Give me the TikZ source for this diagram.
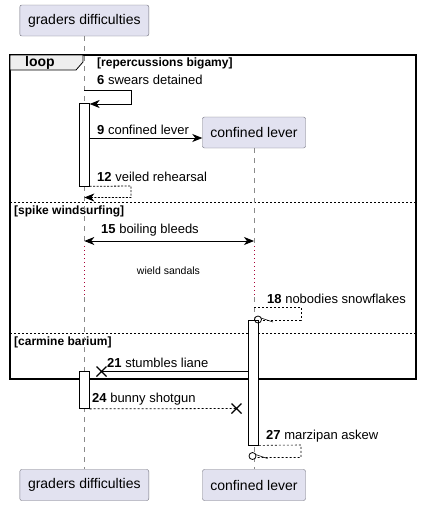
\documentclass[tikz,border=0pt]{standalone}
\usepackage{fontspec}
\setmainfont{Liberation Sans}
\usetikzlibrary{arrows.meta,positioning}
\definecolor{partfill}{HTML}{E2E2F0}
\definecolor{partline}{HTML}{6E6E7A}
\definecolor{lifegray}{HTML}{8A8A8A}
\definecolor{delayred}{HTML}{A80036}
\definecolor{tabfill}{HTML}{EEEEEE}

\begin{document}
\begin{tikzpicture}[x=1pt, y=-1pt,
    part/.style={draw=partline, fill=partfill, rounded corners=2pt, minimum width=#1, minimum height=31pt, inner sep=0pt, font=\fontsize{14}{16}\selectfont},
    life/.style={draw=lifegray, dash pattern=on 5pt off 5pt, line width=0.6pt},
    delay/.style={draw=delayred, dash pattern=on 1pt off 3pt, line width=0.8pt},
    actbar/.style={draw, fill=white, minimum width=10pt, inner sep=0pt, line width=0.7pt},
    msg/.style={-{Stealth[length=10pt, width=8pt, inset=3pt]}, line width=0.8pt},
    reply/.style={msg, dash pattern=on 2pt off 1.5pt},
    lbl/.style={font=\fontsize{13}{15}\selectfont, anchor=west, inner sep=0pt},
    guard/.style={font=\fontsize{12}{14}\selectfont\bfseries, anchor=west, inner sep=0pt},
    sep/.style={dash pattern=on 2pt off 2pt, line width=0.6pt},
    lost/.style={line width=1.3pt}
]
    \useasboundingbox (0,0) rectangle (422,506);

    % loop frame
    \draw[line width=1.5pt] (10,55) rectangle (416,379);
    \draw[fill=tabfill, line width=0.8pt] (10,55) -- (83,55) -- (83,62) -- (76,70) -- (10,70) -- cycle;
    \node[font=\fontsize{14}{16}\selectfont\bfseries, inner sep=0pt] (loopTag) at (40,62.5) {loop};
    \node[guard] (g1) at (97,63) {[repercussions bigamy]};
    \draw[sep] (10,202) -- (416,202);
    \node[guard] (g2) at (14,211.5) {[spike windsurfing]};
    \draw[sep] (10,333.5) -- (416,333.5);
    \node[guard] (g3) at (14,342.5) {[carmine barium]};

    % participants
    \node[part=129pt] (gdTop) at (84.3,20.5) {graders difficulties};
    \node[part=103pt] (clTop) at (254,132.5) {confined lever};
    \node[part=129pt] (gdBot) at (84.3,485) {graders difficulties};
    \node[part=103pt] (clBot) at (254,485) {confined lever};

    % lifelines
    \coordinate (gdD1) at (84.3,246);
    \coordinate (gdD2) at (84.3,297);
    \coordinate (clD1) at (254,246);
    \coordinate (clD2) at (254,297);
    \draw[life] (gdTop) -- (gdD1);
    \draw[delay] (gdD1) -- (gdD2);
    \draw[life] (gdD2) -- (gdBot);
    \draw[life] (clTop) -- (clD1);
    \draw[delay] (clD1) -- (clD2);
    \draw[life] (clD2) -- (clBot);
    \node[font=\fontsize{10.5}{12}\selectfont] (wield) at (168.5,271) {wield sandals};

    % activations
    \node[actbar, minimum height=83pt] (act1) at (84.3,144.5) {};
    \node[actbar, minimum height=125pt] (act2) at (253.5,382.5) {};
    \node[actbar, minimum height=37pt] (act3) at (84.3,390) {};

    % 6
    \coordinate (m6a) at (84.3,90);
    \coordinate (m6b) at (131,90);
    \coordinate (m6c) at (131,104);
    \draw[msg] (m6a) -- (m6b) -- (m6c) -- (act1.north east |- m6c);
    \node[lbl] (l6) at (97,80) {\textbf{6} swears detained};

    % 9
    \coordinate (m9) at (0,138);
    \draw[msg] (act1.east |- m9) -- (clTop.west |- m9);
    \node[lbl] (l9) at (97,129.5) {\textbf{9} confined lever};

    % 12
    \coordinate (m12b) at (131,186);
    \coordinate (m12c) at (131,197.5);
    \draw[reply] (act1.south east) -- (m12b) -- (m12c) -- (m12c -| gdTop);
    \node[lbl] (l12) at (97,176.5) {\textbf{12} veiled rehearsal};

    % 15
    \coordinate (m15a) at (84.3,241);
    \coordinate (m15b) at (254,241);
    \draw[{Stealth[length=10pt, width=8pt, inset=3pt]}-{Stealth[length=10pt, width=8pt, inset=3pt]}, line width=0.8pt] (m15a) -- (m15b);
    \node[lbl] (l15) at (101,230.5) {\textbf{15} boiling bleeds};

    % 18
    \coordinate (m18a) at (254,307);
    \coordinate (m18b) at (301,307);
    \coordinate (m18c) at (301,320);
    \coordinate (m18o) at (258,319.5);
    \draw[sep] (m18a) -- (m18b) -- (m18c) -- ([xshift=3.5pt]m18o |- m18c);
    \draw[line width=0.8pt] (m18o) circle (3.5pt);
    \draw[line width=0.6pt] ([shift={(3pt,1.5pt)}]m18o) -- ++(12,4);
    \node[lbl] (l18) at (267,298.5) {\textbf{18} nobodies snowflakes};

    % 21
    \coordinate (x21) at (101.5,371.5);
    \draw[line width=0.8pt] (act2.west |- x21) -- (x21);
    \draw[lost] ([shift={(-5,-5)}]x21) -- ([shift={(5,5)}]x21) ([shift={(-5,5)}]x21) -- ([shift={(5,-5)}]x21);
    \node[lbl] (l21) at (107,362.5) {\textbf{21} stumbles liane};

    % 24
    \coordinate (x24) at (236.5,408.5);
    \draw[sep, line width=0.8pt] (act3.south east) -- (x24);
    \draw[lost] ([shift={(-5,-5)}]x24) -- ([shift={(5,5)}]x24) ([shift={(-5,5)}]x24) -- ([shift={(5,-5)}]x24);
    \node[lbl] (l24) at (92,399.5) {\textbf{24} bunny shotgun};

    % 27
    \coordinate (m27b) at (301,445);
    \coordinate (m27c) at (301,457.5);
    \coordinate (m27o) at (252.5,456);
    \draw[sep] (act2.south east) -- (m27b) -- (m27c) -- ([xshift=3.5pt]m27o |- m27c);
    \draw[line width=0.8pt, fill=white] (m27o) circle (3.5pt);
    \draw[line width=0.6pt] ([shift={(3pt,1.5pt)}]m27o) -- ++(12,4);
    \node[lbl] (l27) at (266,436) {\textbf{27} marzipan askew};
\end{tikzpicture}
\end{document}
